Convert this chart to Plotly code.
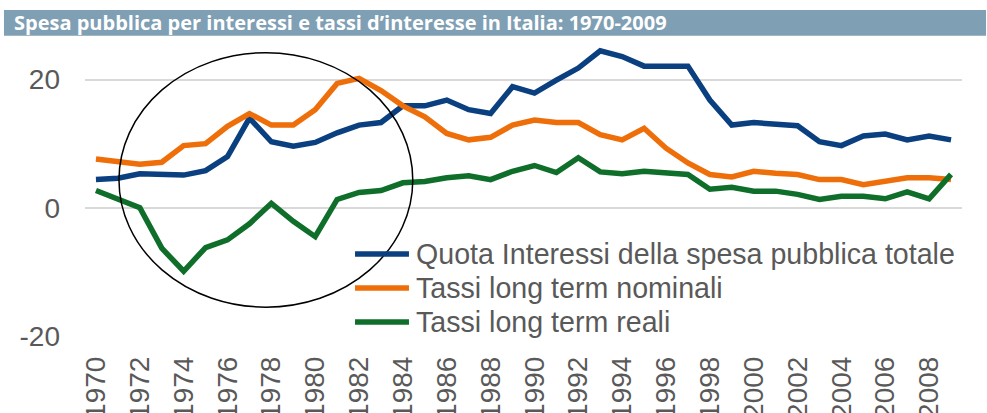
import plotly.graph_objects as go

# anni 1970-2009
years = list(range(1970, 2010))

quota_interessi = [4.4, 4.6, 5.3, 5.1, 5.1, 5.8, 8.0, 14.0, 10.3, 9.6,
                   10.2, 11.7, 12.9, 13.3, 15.9, 15.9, 16.8, 15.3, 14.7, 18.9,
                   17.9, 19.9, 21.8, 24.5, 23.6, 22.1, 22.1, 22.1, 16.8, 12.9,
                   13.3, 13.0, 12.8, 10.3, 9.7, 11.2, 11.5, 10.6, 11.2, 10.6]

tassi_nominali = [7.6, 7.1, 6.8, 7.1, 9.7, 10.0, 12.7, 14.7, 12.9, 12.9,
                  15.3, 19.4, 20.2, 18.3, 15.9, 14.2, 11.6, 10.6, 11.0, 12.9,
                  13.7, 13.3, 13.3, 11.4, 10.6, 12.4, 9.3, 7.0, 5.2, 4.8,
                  5.7, 5.4, 5.2, 4.4, 4.4, 3.6, 4.1, 4.7, 4.7, 4.4]

tassi_reali = [2.7, 1.4, 0.0, -6.3, -9.9, -6.2, -5.0, -2.5, 0.7, -2.1,
               -4.5, 1.3, 2.4, 2.7, 3.9, 4.1, 4.7, 5.0, 4.4, 5.7,
               6.6, 5.5, 7.8, 5.6, 5.3, 5.7, 5.4, 5.2, 2.9, 3.2,
               2.6, 2.6, 2.1, 1.3, 1.8, 1.8, 1.4, 2.5, 1.4, 5.2]

series_names = ['Quota Interessi della spesa pubblica totale',
                'Tassi long term nominali',
                'Tassi long term reali']
series_colors = ['#0A3F80', '#EE6E0A', '#0E6E2A']

TEXT_GREY = '#595959'
FONT = 'Liberation Sans, Arial, sans-serif'

fig = go.Figure()
for name, vals, col in zip(series_names, [quota_interessi, tassi_nominali, tassi_reali], series_colors):
    fig.add_trace(go.Scatter(x=years, y=vals, name=name, mode='lines',
                             line=dict(color=col, width=5.5)))

# barra del titolo
fig.add_shape(type='rect', xref='paper', yref='paper',
              x0=-0.0924, x1=1.0274, y0=1.001, y1=1.0867,
              fillcolor='#7F9FB4', line_width=0, layer='below')
fig.add_annotation(text='<b>Spesa pubblica per interessi e tassi d’interesse in Italia: 1970-2009</b>',
                   xref='paper', yref='paper', x=-0.0832, y=1.044,
                   xanchor='left', yanchor='middle', showarrow=False,
                   font=dict(family='Open Sans, sans-serif', size=20, color='white'))

# ellisse
fig.add_shape(type='circle', xref='x', yref='y',
              x0=1971.05, x1=1984.45, y0=-15.5, y1=24.2,
              line=dict(color='black', width=1.5))

# legenda disegnata a mano (campioni di linea lunghi come nell'originale)
legend_rows_y = [0.2733, 0.16, 0.0467]
for name, col, ly in zip(series_names, series_colors, legend_rows_y):
    fig.add_shape(type='line', xref='paper', yref='paper',
                  x0=0.3079, x1=0.3694, y0=ly, y1=ly,
                  line=dict(color=col, width=5.5))
    fig.add_annotation(text=name, xref='paper', yref='paper',
                       x=0.3751, y=ly, xanchor='left', yanchor='middle',
                       showarrow=False,
                       font=dict(family=FONT, size=28.6, color=TEXT_GREY))

fig.update_layout(
    width=987, height=413,
    margin=dict(l=85, r=25, t=36, b=77),
    paper_bgcolor='white',
    plot_bgcolor='white',
    font=dict(family=FONT, color=TEXT_GREY),
    showlegend=False,
    xaxis=dict(
        range=[1969.5, 2009.5],
        tick0=1970, dtick=2,
        tickangle=-90,
        tickfont=dict(family=FONT, size=28, color=TEXT_GREY),
        showgrid=False, zeroline=False, showline=False,
        ticks='', ticklabelstandoff=14,
        automargin=False,
    ),
    yaxis=dict(
        range=[-20, 26.8],
        tickvals=[-20, 0, 20],
        ticktext=['-20', '0', '20'],
        tickfont=dict(family=FONT, size=28, color=TEXT_GREY),
        showgrid=True, gridcolor='#D9D9D9', gridwidth=1.5,
        zeroline=False, showline=False,
        ticks='', ticklabelstandoff=24,
        automargin=False,
    ),
)

fig.write_html("out.html", config={'displayModeBar': False},
               post_script="document.body.style.margin='0';")
